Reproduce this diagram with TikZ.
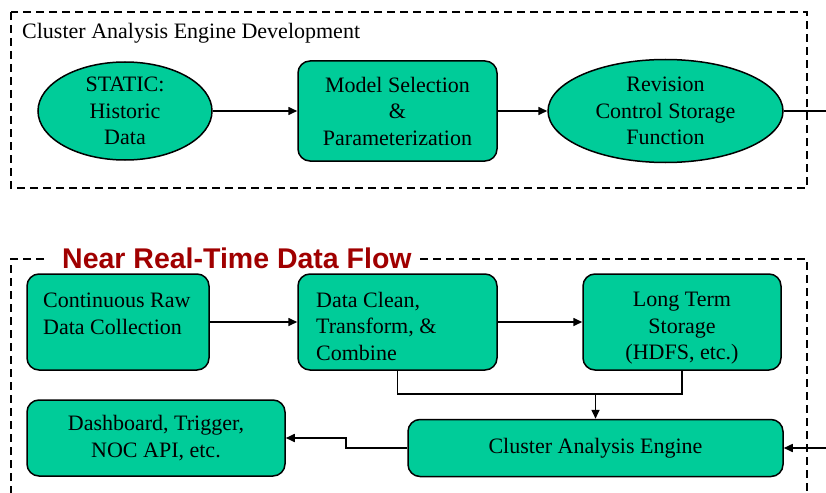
\documentclass[tikz,border=0pt]{standalone}
\usepackage{fontspec}
\setmainfont{Liberation Serif}
\newfontfamily\titlefont{Liberation Sans}
\newfontfamily\serifbox{Liberation Serif}
\usetikzlibrary{arrows.meta,shapes.geometric}
\definecolor{boxgreen}{RGB}{0,204,153}
\definecolor{titlered}{RGB}{160,0,0}
\begin{document}
\begin{tikzpicture}[x=1pt,y=-1pt,
  boxtext/.style={font=\serifbox\fontsize{22}{26.5}\selectfont, align=center, text=black},
  greenbox/.style={draw=black, line width=1.5pt, fill=boxgreen, rounded corners=12pt, inner sep=0pt},
  greenell/.style={draw=black, line width=1.5pt, fill=boxgreen, ellipse, inner sep=0pt},
  frame/.style={draw=black, line width=1.5pt, dash pattern=on 8pt off 5pt},
  conn/.style={draw=black, line width=1.6pt},
  arr/.style={conn, -{Triangle[length=9pt,width=8pt]}}
]
\useasboundingbox (0,0) rectangle (826,492);
% frames
\draw[frame] (11,12) rectangle (807,188);
\node[anchor=base west, inner sep=0pt, font=\serifbox\fontsize{22}{26}\selectfont] (toplabel) at (22,39) {Cluster Analysis Engine Development};
\draw[frame] (44,259) -- (11,259) -- (11,500);
\draw[frame] (420,259) -- (807,259) -- (807,500);
\node[anchor=base west, inner sep=0pt, text=titlered, font=\titlefont\bfseries\fontsize{28.5}{32}\selectfont] (flowtitle) at (62,268) {Near Real-Time Data Flow};
% top row
\node[greenell, minimum width=174pt, minimum height=98pt, boxtext] (hist) at (125,111) {STATIC:\\Historic\\Data};
\node[greenbox, minimum width=199pt, minimum height=100pt, boxtext] (model) at (397.5,111) {Model Selection\\\&\\Parameterization};
\node[greenell, minimum width=235pt, minimum height=103pt, boxtext] (rev) at (665.5,111) {Revision\\Control Storage\\Function};
\coordinate (outtop) at (826,111);
\draw[arr] (hist.east) -- (model.west);
\draw[arr] (model.east) -- (rev.west);
\draw[conn] (rev.east) -- (outtop);
% bottom
\node[greenbox, minimum width=182pt, minimum height=96pt] (raw) at (118,322) {};
\node[boxtext, align=left, anchor=north west, inner sep=0pt] (rawtxt) at (43,293) {Continuous Raw\\Data Collection};
\node[greenbox, minimum width=199pt, minimum height=96pt] (clean) at (397.5,322) {};
\node[boxtext, align=left, anchor=north west, inner sep=0pt] (cleantxt) at (316,292) {Data Clean,\\Transform, \&\\Combine};
\node[greenbox, minimum width=198pt, minimum height=96pt] (store) at (682,322) {};
\node[boxtext, inner sep=0pt] (storetxt) at (682,328.5) {Long Term\\Storage\\(HDFS, etc.)};
\node[greenbox, minimum width=258pt, minimum height=76pt, boxtext] (dash) at (156,438) {Dashboard, Trigger,\\NOC API, etc.};
\node[greenbox, minimum width=375pt, minimum height=57pt, boxtext] (cae) at (595.5,448) {Cluster Analysis Engine};
\coordinate (inbot) at (826,448);
\draw[arr] (raw.east) -- (clean.west);
\draw[arr] (clean.east) -- (store.west);
\draw[conn] (clean.south) -- ++(0,23) coordinate (joinl) -| (store.south);
\draw[arr] (cae.north |- joinl) -- (cae.north);
\draw[arr] (cae.west) -- ++(-61,0) |- (dash.east);
\draw[arr] (inbot) -- (cae.east);
\end{tikzpicture}
\end{document}
